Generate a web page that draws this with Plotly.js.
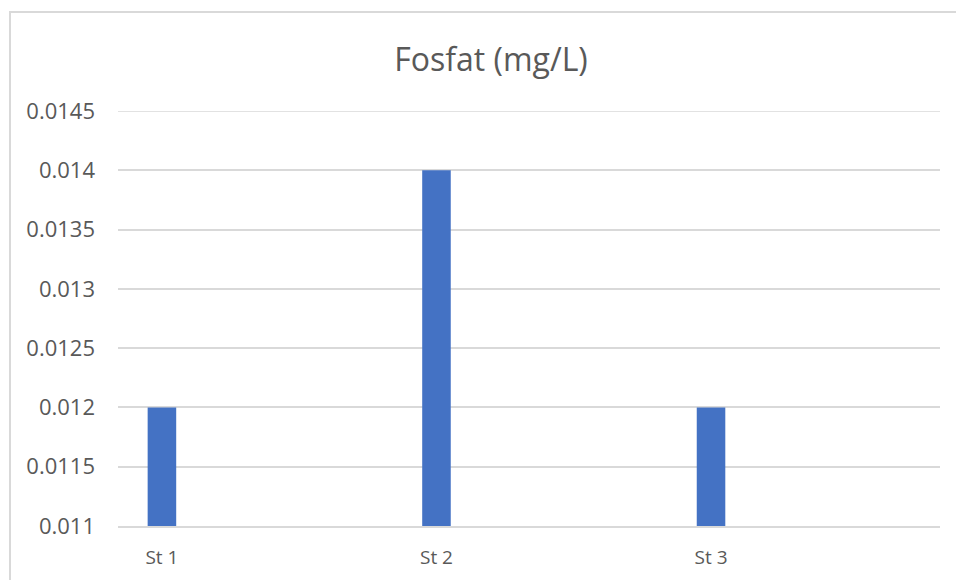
<!DOCTYPE html>
<html>
<head>
<meta charset="utf-8">
<script src="https://cdn.plot.ly/plotly-3.0.1.min.js"></script>
<style>
  html, body { margin: 0; padding: 0; background: #fff; }
  #chart { width: 956px; height: 580px; }
</style>
</head>
<body>
<div id="chart"></div>
<script>
// Phosphate concentration per station
const stations = ["St 1", "St 2", "St 3"];
const fosfat = [0.012, 0.014, 0.012];
const yTickVals = [0.011, 0.0115, 0.012, 0.0125, 0.013, 0.0135, 0.014, 0.0145];
const yTickText = ["0.011", "0.0115", "0.012", "0.0125", "0.013", "0.0135", "0.014", "0.0145"];

const grey = "#595959";
const gridGrey = "#d9d9d9";
const fontFam = "'Open Sans', 'Noto Sans', sans-serif";
const yTop = yTickVals[yTickVals.length - 1];

const trace = {
  type: "bar",
  x: stations.map((_, i) => i),
  y: fosfat,
  width: 0.104,
  marker: { color: "#4472c4" },
  hoverinfo: "x+y"
};

const layout = {
  width: 956,
  height: 580,
  margin: { l: 118, r: 16, t: 111, b: 54 },
  paper_bgcolor: "#ffffff",
  plot_bgcolor: "#ffffff",
  showlegend: false,
  title: {
    text: "Fosfat (mg/L)",
    font: { family: fontFam, size: 32, color: grey },
    xref: "container", x: 0.5136, xanchor: "center",
    yref: "container", y: 1 - 60 / 580, yanchor: "middle"
  },
  xaxis: {
    range: [-0.16, 2.834],
    tickvals: stations.map((_, i) => i),
    ticktext: stations,
    showgrid: false,
    zeroline: false,
    showline: true,
    linecolor: gridGrey,
    linewidth: 1.5,
    ticks: "",
    ticklabelstandoff: 13,
    tickfont: { family: fontFam, size: 19, color: grey },
    fixedrange: true
  },
  yaxis: {
    range: [yTickVals[0], yTop],
    tickvals: yTickVals,
    ticktext: yTickText,
    showgrid: true,
    gridcolor: gridGrey,
    gridwidth: 1.5,
    zeroline: false,
    showline: false,
    ticks: "",
    ticklabelstandoff: 22,
    tickfont: { family: fontFam, size: 22, color: grey },
    fixedrange: true
  },
  shapes: [
    // outer chart frame
    {
      type: "rect",
      xref: "paper", yref: "paper",
      x0: (10 - 118) / 822, x1: 1.2,
      y0: -0.3, y1: (526 - 12) / 415,
      line: { color: gridGrey, width: 2 },
      fillcolor: "rgba(0,0,0,0)",
      layer: "below"
    },
    // gridline at the top of the value axis (plotly skips it at the edge)
    {
      type: "line",
      xref: "paper", yref: "y",
      x0: 0, x1: 1, y0: yTop, y1: yTop,
      line: { color: gridGrey, width: 1.5 },
      layer: "below"
    }
  ]
};

Plotly.newPlot("chart", [trace], layout, { displayModeBar: false });
</script>
</body>
</html>
